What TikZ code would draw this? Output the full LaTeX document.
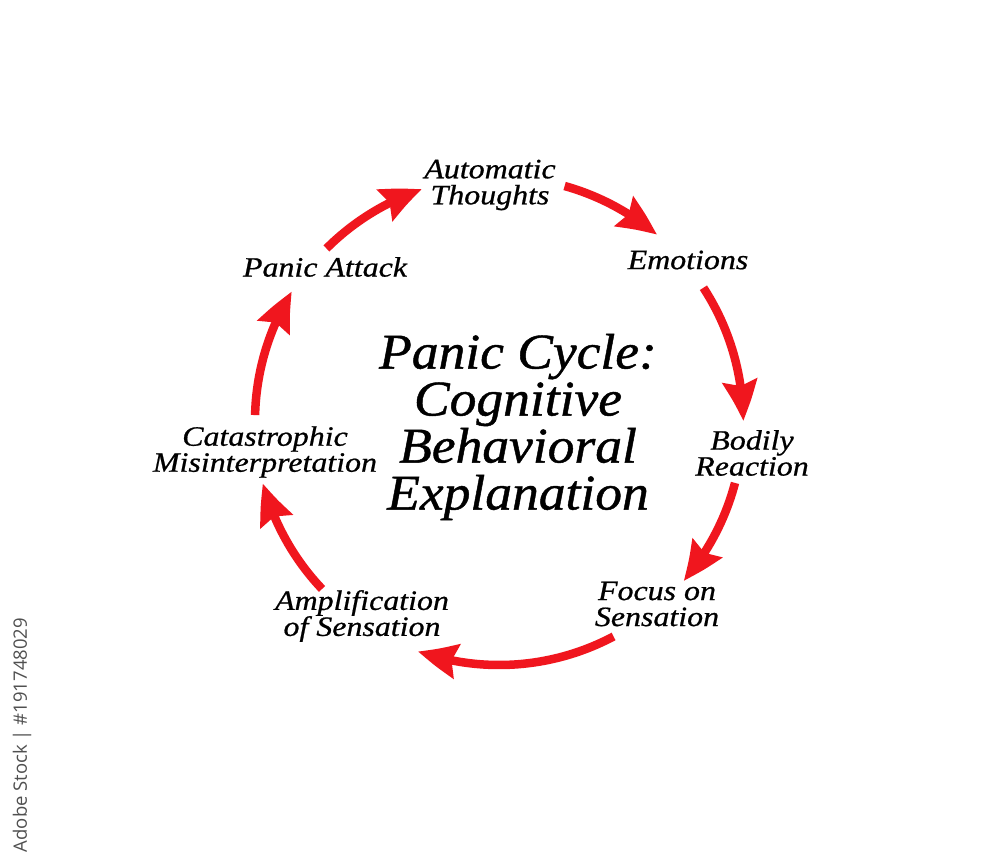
\documentclass[tikz,border=0pt]{standalone}
\usepackage{fontspec}
\setmainfont{Liberation Serif}
\newfontfamily\labfont{Liberation Serif}[FakeStretch=1.14,FakeBold=0.7]
\newfontfamily\ttlfont{Liberation Serif}[FakeStretch=1.07,FakeBold=0.9]
\newfontfamily\wmfont{Open Sans}
\usetikzlibrary{arrows.meta,bending}
\definecolor{arrred}{RGB}{240,22,30}
\definecolor{wmgray}{RGB}{80,80,80}
\begin{document}
\begin{tikzpicture}[x=1pt,y=-1pt,
  arr/.style={draw=arrred, line width=8.5pt, -{Stealth[length=40pt,width=34pt,inset=5pt,bend]}},
  lab/.style={font=\labfont\itshape\fontsize{28}{26}\selectfont, align=center, inner sep=0pt},
  ttl/.style={font=\ttlfont\itshape\fontsize{50}{47}\selectfont, align=center, inner sep=0pt},
  wm/.style={font=\wmfont\fontsize{18.5}{18.5}\selectfont, text=wmgray, rotate=90, inner sep=0pt}]
\useasboundingbox (0,0) rectangle (1000,863);
\fill[white] (0,0) rectangle (1000,863);
% labels
\node[lab] (at) at (490,185) {Automatic\\Thoughts};
\node[lab] (em) at (688,260) {Emotions};
\node[lab] (br) at (752,453) {Bodily\\Reaction};
\node[lab] (fs) at (657,604) {Focus on\\Sensation};
\node[lab] (as) at (362,616) {Amplification\\of Sensation};
\node[lab] (cm) at (265,452) {Catastrophic\\Misinterpretation};
\node[lab] (pa) at (325,267) {Panic Attack};
\node[ttl] (title) at (518,427) {Panic Cycle:\\Cognitive\\Behavioral\\Explanation};
\node[wm] (wmark) at (22,735) {Adobe Stock | \#191748029};
% cycle arrows
\coordinate (O) at (499,421);
\coordinate (s1) at ([shift={(-74.4:244)}]O);
\coordinate (s2) at ([shift={(-33.1:244)}]O);
\coordinate (s3) at ([shift={(14.7:244)}]O);
\coordinate (s4) at ([shift={(62:244)}]O);
\coordinate (s5) at ([shift={(136.5:244)}]O);
\coordinate (s6) at ([shift={(181.4:244)}]O);
\coordinate (s7) at ([shift={(225:244)}]O);
\draw[arr] (s1) arc[start angle=-74.4, end angle=-49.7, radius=244];
\draw[arr] (s2) arc[start angle=-33.1, end angle=0, radius=244];
\draw[arr] (s3) arc[start angle=14.7, end angle=40.9, radius=244];
\draw[arr] (s4) arc[start angle=62, end angle=109.4, radius=244];
\draw[arr] (s5) arc[start angle=136.5, end angle=165.2, radius=244];
\draw[arr] (s6) arc[start angle=181.4, end angle=212, radius=244];
\draw[arr] (s7) arc[start angle=225, end angle=251.6, radius=244];
\end{tikzpicture}
\end{document}
